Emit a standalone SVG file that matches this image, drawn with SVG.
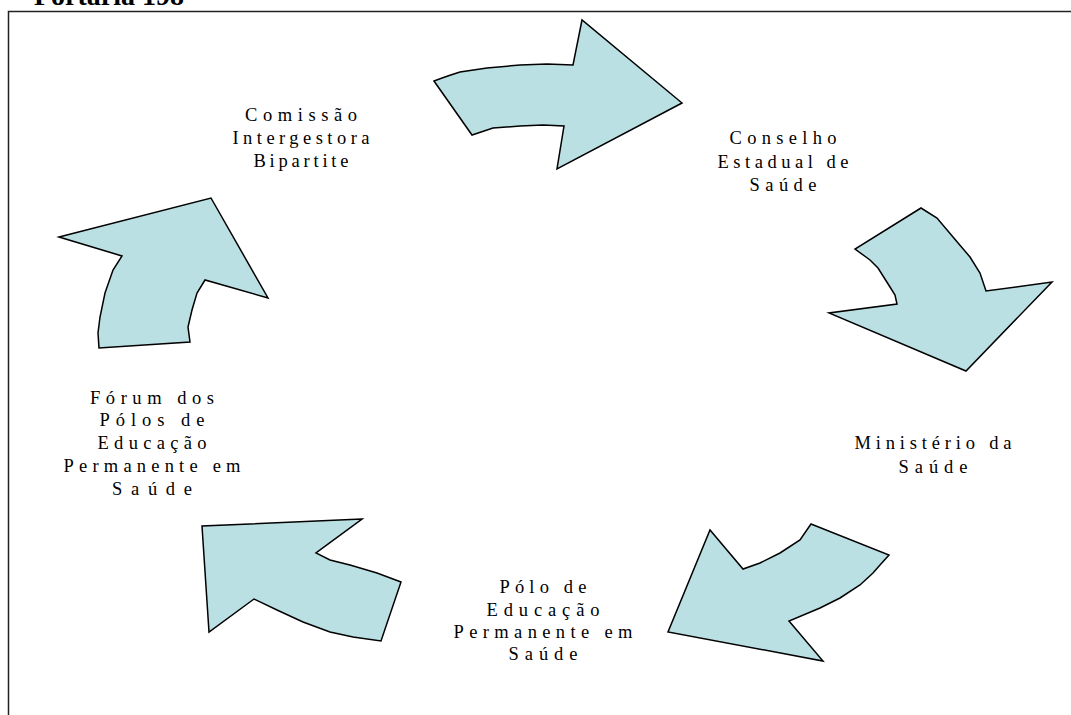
<svg xmlns="http://www.w3.org/2000/svg" width="1071" height="715" viewBox="0 0 1071 715">
<style>
.arrow{fill:#BBE0E3;stroke:#000;stroke-width:1.5;stroke-linejoin:miter}
.lbl{font-family:"Liberation Serif","Times New Roman",serif;font-size:18.5px;fill:#000;text-anchor:middle}
.title{font-family:"Liberation Serif","Times New Roman",serif;font-size:28px;font-weight:bold;fill:#000}
</style>
<rect x="0" y="0" width="1071" height="715" fill="#fff"/>
<text class="title" x="34" y="5">Portaria 198</text>
<path d="M8.5,715 V11.5 H1071" fill="none" stroke="#222" stroke-width="1.5"/>
<g id="connectors">
<path id="arrow-top" class="arrow" d="M434,81 Q450,75 460,72 L487,68 L520,65 L547,64 L573,65 L582,20 L682,103 L557,169 L564,126 L543,125 L520,126 L493,128 L472,135 Z"/>
<path id="arrow-right" class="arrow" d="M921,208 L937,218 L953,237 L970,257 L980,273 L986,291 L1052,282 L966,371 L829,313 L897,304 L895,295 L890,287 L878,268 L870,260 L855,249 Z"/>
<path id="arrow-bottom-right" class="arrow" d="M811,524 L889,555 L880,565 L873,573 L860,585 L840,598 L820,608 L789,621 L823,661 L668,632 L710,530 L743,569 L760,563 L780,553 L800,540 Z"/>
<path id="arrow-bottom-left" class="arrow" d="M362,519 L202,526 L209,632 L254,599 L277,610 L303,622 L330,632 L353,637 L381,641 L401,582 L377,573 L350,565 L330,560 L316,553 Z"/>
<path id="arrow-left" class="arrow" d="M59,237 L211,198 L268,298 L205,280 L197,293 L192,310 L188,327 L190,342 L99,348 L98,333 L100,317 L105,293 L113,270 L122,256 Z"/>
</g>
<g id="node-cib">
<text class="lbl" x="301" y="121" textLength="112" lengthAdjust="spacing">Comissão</text>
<text class="lbl" x="301" y="144" textLength="137" lengthAdjust="spacing">Intergestora</text>
<text class="lbl" x="301" y="167" textLength="95" lengthAdjust="spacing">Bipartite</text>
</g>
<g id="node-ces">
<text class="lbl" x="783" y="144" textLength="107" lengthAdjust="spacing">Conselho</text>
<text class="lbl" x="783" y="168" textLength="131" lengthAdjust="spacing">Estadual de</text>
<text class="lbl" x="783" y="191" textLength="67" lengthAdjust="spacing">Saúde</text>
</g>
<g id="node-ms">
<text class="lbl" x="933" y="449" textLength="157" lengthAdjust="spacing">Ministério da</text>
<text class="lbl" x="933" y="473" textLength="69" lengthAdjust="spacing">Saúde</text>
</g>
<g id="node-polo">
<text class="lbl" x="543" y="593" textLength="87" lengthAdjust="spacing">Pólo de</text>
<text class="lbl" x="543" y="616" textLength="113" lengthAdjust="spacing">Educação</text>
<text class="lbl" x="543" y="638" textLength="179" lengthAdjust="spacing">Permanente em</text>
<text class="lbl" x="543" y="660" textLength="69" lengthAdjust="spacing">Saúde</text>
</g>
<g id="node-forum">
<text class="lbl" x="152" y="404" textLength="124" lengthAdjust="spacing">Fórum dos</text>
<text class="lbl" x="152" y="426" textLength="105" lengthAdjust="spacing">Pólos de</text>
<text class="lbl" x="152" y="449" textLength="109" lengthAdjust="spacing">Educação</text>
<text class="lbl" x="152" y="472" textLength="177" lengthAdjust="spacing">Permanente em</text>
<text class="lbl" x="152" y="495" textLength="80" lengthAdjust="spacing">Saúde</text>
</g>
</svg>
